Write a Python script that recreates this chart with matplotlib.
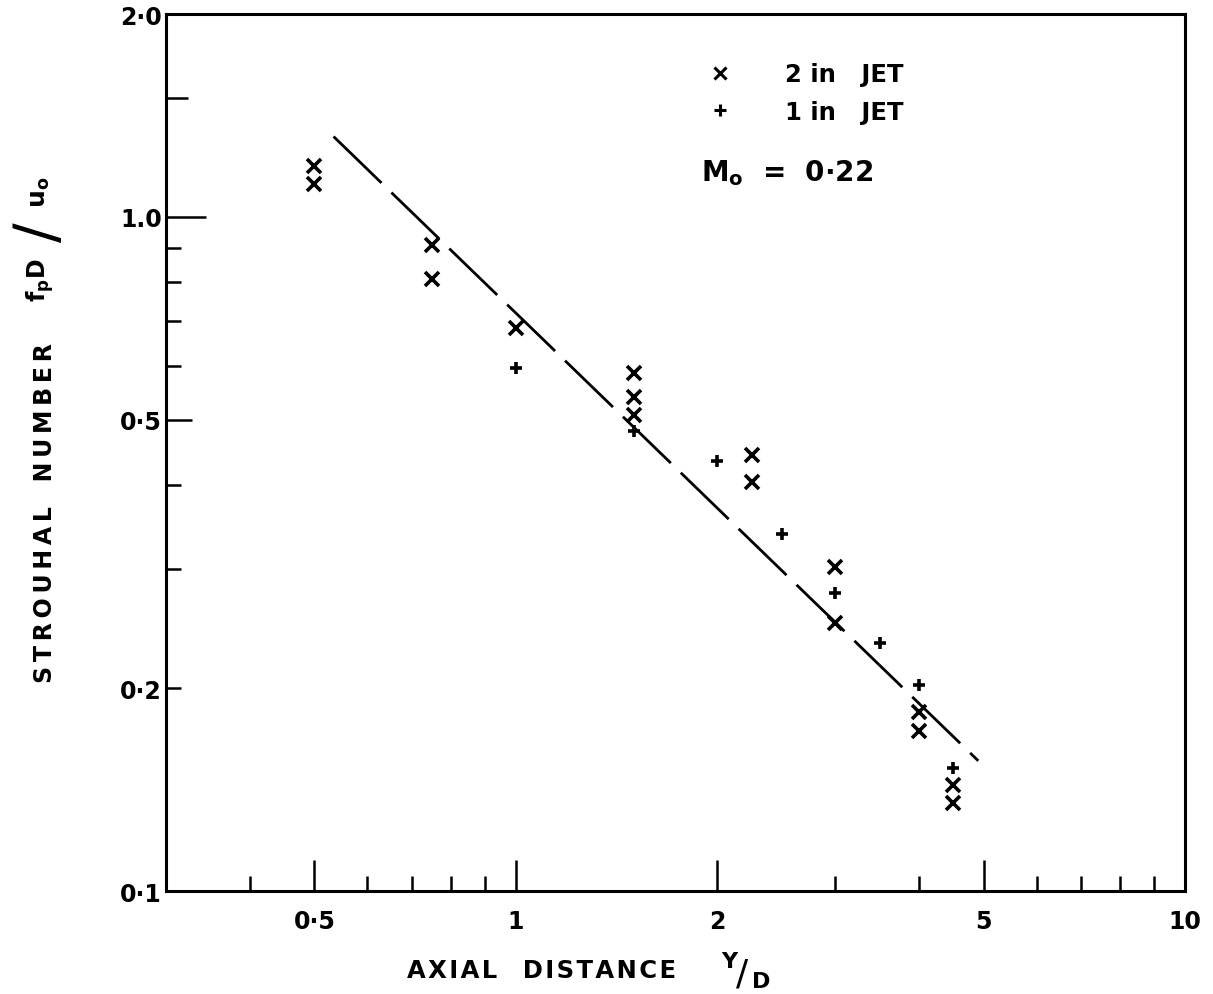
import matplotlib
matplotlib.use("Agg")
import matplotlib.pyplot as plt
from matplotlib.lines import Line2D
from matplotlib.ticker import FixedLocator, NullFormatter

# data
x_2in = [0.5, 0.5, 0.75, 0.75, 1.0, 1.5, 1.5, 1.5, 2.25, 2.25, 3.0, 3.0, 4.0, 4.0, 4.5, 4.5]
y_2in = [1.19, 1.12, 0.91, 0.81, 0.685, 0.587, 0.541, 0.508, 0.444, 0.404, 0.302, 0.25, 0.184, 0.173, 0.1435, 0.135]

x_1in = [1.0, 1.5, 2.0, 2.5, 3.0, 3.5, 4.0, 4.5]
y_1in = [0.597, 0.481, 0.435, 0.338, 0.277, 0.233, 0.202, 0.152]

# dashed correlation line
fit_x = [0.534, 4.91]
fit_y = [1.316, 0.156]

x_major = [0.5, 1, 2, 5, 10]
x_major_labels = ["0·5", "1", "2", "5", "10"]
x_minor = [0.4, 0.6, 0.7, 0.8, 0.9, 3, 4, 6, 7, 8, 9]
y_major = [0.1, 0.2, 0.5, 1.0, 2.0]
y_major_labels = ["0·1", "0·2", "0·5", "1.0", "2·0"]
y_minor = [0.3, 0.4, 0.6, 0.7, 0.8, 0.9, 1.5]

W, H = 1213, 995


def spaced(s, gap="\u2009"):
    # wide stencil lettering: small space between letters
    return gap.join(s).replace(gap + " " + gap, "   ")


def px(x, y):
    return x / W, 1 - y / H


plt.rcParams['font.family'] = ['DejaVu Sans']
plt.rcParams['font.weight'] = 'bold'
plt.rcParams['mathtext.fontset'] = 'dejavusans'
plt.rcParams['mathtext.default'] = 'bf'

fig = plt.figure(figsize=(W / 100, H / 100), dpi=100)
ax = fig.add_axes([166 / W, 1 - 892 / H, (1185 - 166) / W, (892 - 15) / H])

ax.set_xscale('log')
ax.set_yscale('log')
ax.set_xlim(0.3, 10)
ax.set_ylim(0.1, 2.0)

line, = ax.plot(fit_x, fit_y, color='black', lw=2.0)
line.set_dashes((24, 5))
ax.plot(x_2in, y_2in, ls='none', marker='x', ms=10.5, mew=2.6, color='black')
ax.plot(x_1in, y_1in, ls='none', marker='+', ms=9, mew=2.6, color='black')

for s in ax.spines.values():
    s.set_linewidth(2.2)

ax.xaxis.set_major_locator(FixedLocator(x_major))
ax.xaxis.set_minor_locator(FixedLocator(x_minor))
ax.set_xticklabels(x_major_labels)
ax.xaxis.set_minor_formatter(NullFormatter())
ax.yaxis.set_major_locator(FixedLocator(y_major))
ax.yaxis.set_minor_locator(FixedLocator(y_minor))
ax.set_yticklabels(y_major_labels)
ax.yaxis.set_minor_formatter(NullFormatter())

ax.tick_params(which='both', direction='in', top=False, right=False, width=1.8, labelsize=17)
ax.tick_params(axis='x', which='major', length=22, pad=13)
ax.tick_params(axis='x', which='minor', length=11)
ax.tick_params(axis='y', which='major', length=18, pad=3)
ax.tick_params(axis='y', which='minor', length=11)
# the major y ticks differ in length in the original
ax.yaxis.get_major_ticks()[3].tick1line.set_markersize(29)
ax.yaxis.get_major_ticks()[2].tick1line.set_markersize(19)
ax.yaxis.get_major_ticks()[1].tick1line.set_markersize(11)
ax.yaxis.get_minor_ticks()[6].tick1line.set_markersize(16)

# axis titles, lettered in pieces like the original
fig.text(*px(542, 971), spaced("AXIAL DISTANCE", "\u200a"), fontsize=17.5, ha='center', va='center')
fig.text(*px(729, 962), "Y", fontsize=16, ha='center', va='center')
fig.text(*px(742, 975), "/", fontsize=26, fontweight='normal', ha='center', va='center')
fig.text(*px(761, 982), "D", fontsize=16, ha='center', va='center')

fig.text(*px(45, 513), spaced("STROUHAL NUMBER"), fontsize=17, rotation=90, ha='center', va='center')
fig.text(*px(40, 280), "f$_\\mathregular{p}$D", fontsize=17, rotation=90, ha='center', va='center')
fig.text(*px(40, 232), "/", fontsize=42, fontweight='normal', rotation=90, ha='center', va='center')
fig.text(*px(40, 192), "u$_\\mathregular{o}$", fontsize=18, rotation=90, ha='center', va='center')

handles = [Line2D([], [], ls='none', marker='x', ms=9, mew=2.2, color='black'),
           Line2D([], [], ls='none', marker='+', ms=8, mew=2.2, color='black')]
ax.legend(handles, ["2 in   JET", "1 in   JET"], loc='upper left', bbox_to_anchor=(0.51, 0.956),
          frameon=False, prop={'size': 17.5, 'weight': 'bold'}, handletextpad=1.7,
          labelspacing=0.55, borderaxespad=0)
ax.text(0.525, 0.82, "M$_\\mathregular{o}$  =  0·22", transform=ax.transAxes, fontsize=20, va='center')

fig.savefig('out.png', dpi=100)
